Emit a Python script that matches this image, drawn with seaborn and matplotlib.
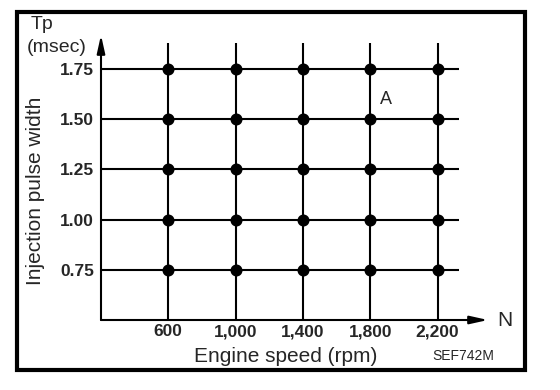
import numpy as np
import pandas as pd
import matplotlib
matplotlib.use("Agg")
import matplotlib.pyplot as plt
import seaborn as sns
from matplotlib.patches import Rectangle

# Data
engine_speed = [600, 1000, 1400, 1800, 2200]
pulse_width = [0.75, 1.00, 1.25, 1.50, 1.75]
x_labels = ["600", "1,000", "1,400", "1,800", "2,200"]
y_labels = ["0.75", "1.00", "1.25", "1.50", "1.75"]

df = pd.DataFrame([(s, p) for s in engine_speed for p in pulse_width],
                  columns=["speed", "tp"])

sns.set_theme(style="white")
plt.rcParams['font.family'] = ['Liberation Sans', 'DejaVu Sans']

fig = plt.figure(figsize=(5.6, 3.9), dpi=100)
ax = fig.add_axes([101/560, 1-320/390, (488-101)/560, (320-35)/390])
ax.set_xlim(200, 2500)
ax.set_ylim(0.5, 1.918)
for s in ax.spines.values():
    s.set_visible(False)

# grid lines
ax.hlines(pulse_width, 200, 2330, color="black", lw=1.5, zorder=1)
ax.vlines(engine_speed, 0.5, 1.88, color="black", lw=1.5, zorder=1)

sns.scatterplot(data=df, x="speed", y="tp", ax=ax, color="black", s=75,
                edgecolor="black", linewidth=0, zorder=3, legend=False)

# axes arrows
ax.annotate("", xy=(2500, 0.5), xytext=(200, 0.5),
            arrowprops=dict(arrowstyle="-|>,head_length=0.9,head_width=0.2",
                            color="black", lw=1.5, shrinkA=0, shrinkB=0),
            annotation_clip=False)
ax.annotate("", xy=(200, 1.918), xytext=(200, 0.5),
            arrowprops=dict(arrowstyle="-|>,head_length=0.9,head_width=0.2",
                            color="black", lw=1.5, shrinkA=0, shrinkB=0),
            annotation_clip=False)

ax.set_xticks(engine_speed)
ax.set_xticklabels(x_labels, fontsize=12.5, fontweight="bold")
ax.set_yticks(pulse_width)
ax.set_yticklabels(y_labels, fontsize=12.5, fontweight="bold")
ax.tick_params(axis="x", length=0, pad=3)
ax.tick_params(axis="y", length=0, pad=5)
ax.set_xlabel("")
ax.set_ylabel("")

fig.text(286/560, 1-356/390, "Engine speed (rpm)", fontsize=15,
         ha="center", va="center")
fig.text(36/560, 1-191/390, "Injection pulse width", fontsize=15,
         rotation=90, ha="center", va="center")
fig.text(31/560, 1-29/390, "Tp", fontsize=14, ha="left", va="baseline")
fig.text(27/560, 1-52/390, "(msec)", fontsize=14, ha="left", va="baseline")
fig.text(497/560, 1-320/390, "N", fontsize=15, ha="left", va="center")
fig.text(386/560, 1-100/390, "A", fontsize=13, ha="center", va="center")
fig.text(463/560, 1-356/390, "SEF742M", fontsize=10, ha="center", va="center")

fig.add_artist(Rectangle((17/560, 1-370/390), (525-17)/560, (370-12)/390,
                         transform=fig.transFigure, fill=False,
                         edgecolor="black", lw=3))

fig.savefig("out.png", dpi=100)
